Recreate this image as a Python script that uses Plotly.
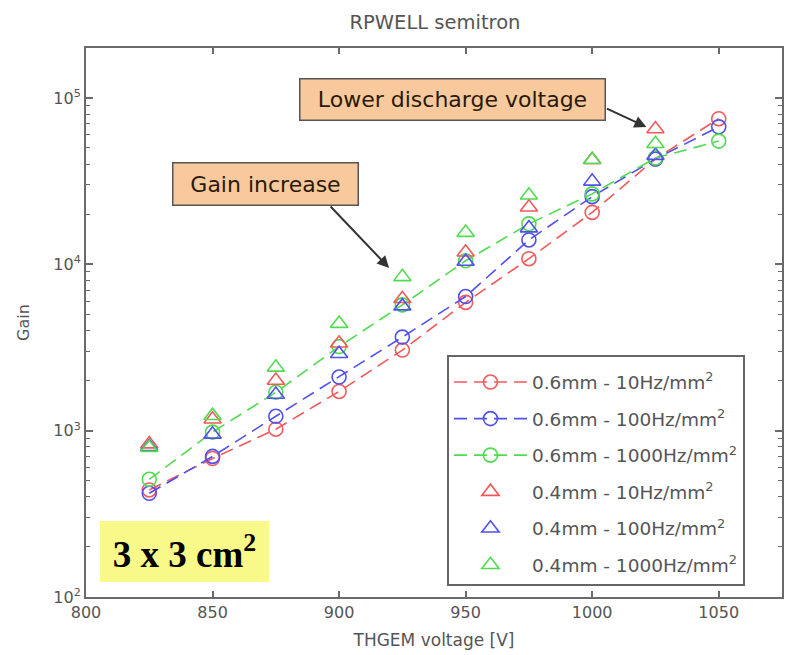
import plotly.graph_objects as go

# ---- data ----
volts_06 = [825, 850, 875, 900, 925, 950, 975, 1000, 1025, 1050]
volts_04 = [825, 850, 875, 900, 925, 950, 975, 1000, 1025]

gain_06_10 = [440, 680, 1020, 1720, 3050, 5900, 10800, 20500, 43000, 75000]
gain_06_100 = [420, 700, 1220, 2100, 3650, 6400, 14000, 25500, 43000, 67000]
gain_06_1000 = [510, 980, 1700, 3200, 5700, 10500, 17500, 26500, 43500, 55000]

gain_04_10 = [830, 1170, 2000, 3350, 6200, 11800, 22000, 42500, 65000]
gain_04_100 = [800, 950, 1650, 2900, 5600, 10400, 16500, 31500, 45000]
gain_04_1000 = [790, 1230, 2400, 4400, 8400, 15500, 26000, 42500, 53000]

labels_06 = ["0.6mm - 10Hz/mm<sup>2</sup>", "0.6mm - 100Hz/mm<sup>2</sup>", "0.6mm - 1000Hz/mm<sup>2</sup>"]
labels_04 = ["0.4mm - 10Hz/mm<sup>2</sup>", "0.4mm - 100Hz/mm<sup>2</sup>", "0.4mm - 1000Hz/mm<sup>2</sup>"]

x_ticks = [800, 850, 900, 950, 1000, 1050]
y_ticks = [100, 1000, 10000, 100000]
y_ticktext = ["10<sup>2</sup>", "10<sup>3</sup>", "10<sup>4</sup>", "10<sup>5</sup>"]
y_minor = [m * 10 ** k for k in range(2, 6) for m in range(2, 10)]

colors = ["#f25a5a", "#5050ee", "#4fdc4f"]

fig = go.Figure()
for vals, lab, col in zip([gain_06_10, gain_06_100, gain_06_1000], labels_06, colors):
    fig.add_trace(go.Scatter(
        x=volts_06, y=vals, name=lab, mode="lines+markers", legendgroup=lab,
        line=dict(color=col, width=1.6, dash="13px,7px"),
        marker=dict(symbol="circle-open", size=14, color=col, line=dict(width=1.6, color=col)),
    ))
for vals, lab, col in zip([gain_04_10, gain_04_100, gain_04_1000], labels_04, colors):
    fig.add_trace(go.Scatter(
        x=volts_04, y=vals, name=lab, mode="markers", legendgroup=lab,
        marker=dict(symbol="triangle-up-open", size=15, color=col, line=dict(width=1.6, color=col)),
    ))

axis_col = "#6a6a6a"
base_font = "DejaVu Sans, sans-serif"
tick_font = dict(family=base_font, size=16, color="#555555")

fig.update_layout(
    width=785, height=655,
    margin=dict(l=86, r=1, t=48, b=58),
    paper_bgcolor="white", plot_bgcolor="white",
    title=dict(text="RPWELL semitron", x=435 / 785, xanchor="center", y=1 - 22 / 655, yanchor="middle",
               font=dict(family=base_font, size=19.5, color="#555555")),
    font=dict(family=base_font, color="#555555"),
    xaxis=dict(range=[800, 1075], tickmode="array", tickvals=x_ticks, ticks="inside", ticklen=6,
               tickwidth=1.5, tickcolor=axis_col, showline=True, linecolor=axis_col, linewidth=2,
               mirror="ticks", showgrid=False, zeroline=False, tickfont=tick_font,
               title=dict(text="THGEM voltage [V]", font=dict(size=17, color="#555555"), standoff=13)),
    yaxis=dict(type="log", range=[2, 5.3], tickmode="array", tickvals=y_ticks, ticktext=y_ticktext,
               ticks="inside", ticklen=7, tickwidth=1.5, tickcolor=axis_col, showline=True,
               linecolor=axis_col, linewidth=2, mirror="ticks", showgrid=False, zeroline=False,
               tickfont=tick_font,
               minor=dict(tickmode="array", tickvals=y_minor, ticks="inside", ticklen=4,
                          tickwidth=1.2, tickcolor=axis_col, showgrid=False),
               title=dict(text="Gain", font=dict(size=16, color="#555555"), standoff=20)),
    legend=dict(x=(448 - 86) / 698, y=(597 - 355) / 549, xanchor="left", yanchor="top",
                bgcolor="white", bordercolor="#666666", borderwidth=2,
                font=dict(family=base_font, size=18.5, color="#555555"),
                title=dict(text=" ", font=dict(size=5)),
                itemwidth=73, tracegroupgap=9.5, traceorder="grouped"),
    showlegend=True,
)

def px(xp):
    return (xp - 86) / 698

def py(yp):
    return (597 - yp) / 549

box_font = dict(family=base_font, size=22, color="#2a1a0a")
fig.add_annotation(xref="paper", yref="paper", x=px(453.5), y=py(99), xanchor="center", yanchor="middle",
                   text="Lower discharge voltage",
                   showarrow=False, font=box_font, bgcolor="#f8c99c", bordercolor="#555555",
                   borderwidth=1.5, width=302, height=38, borderpad=1)
fig.add_annotation(xref="paper", yref="paper", x=px(266.5), y=py(183.5), xanchor="center", yanchor="middle",
                   text="Gain increase",
                   showarrow=False, font=box_font, bgcolor="#f8c99c", bordercolor="#555555",
                   borderwidth=1.5, width=182, height=39, borderpad=1)
fig.add_annotation(xref="paper", yref="paper", x=px(648), y=py(127), text="", showarrow=True,
                   ax=-41, ay=-19, arrowhead=2, arrowsize=1.2, arrowwidth=2, arrowcolor="#333333")
fig.add_annotation(xref="paper", yref="paper", x=px(390), y=py(268), text="", showarrow=True,
                   ax=-60, ay=-63, arrowhead=2, arrowsize=1.2, arrowwidth=2, arrowcolor="#333333")
fig.add_annotation(xref="paper", yref="paper", x=px(184.5), y=py(551.5), xanchor="center", yanchor="middle",
                   text="<b>3 x 3 cm<sup>2</sup></b>",
                   showarrow=False, font=dict(family="Liberation Serif, Times New Roman, serif", size=37, color="black"),
                   bgcolor="#f9f98a", borderwidth=0, width=165, height=57, borderpad=2)

fig.write_html("out.html")
